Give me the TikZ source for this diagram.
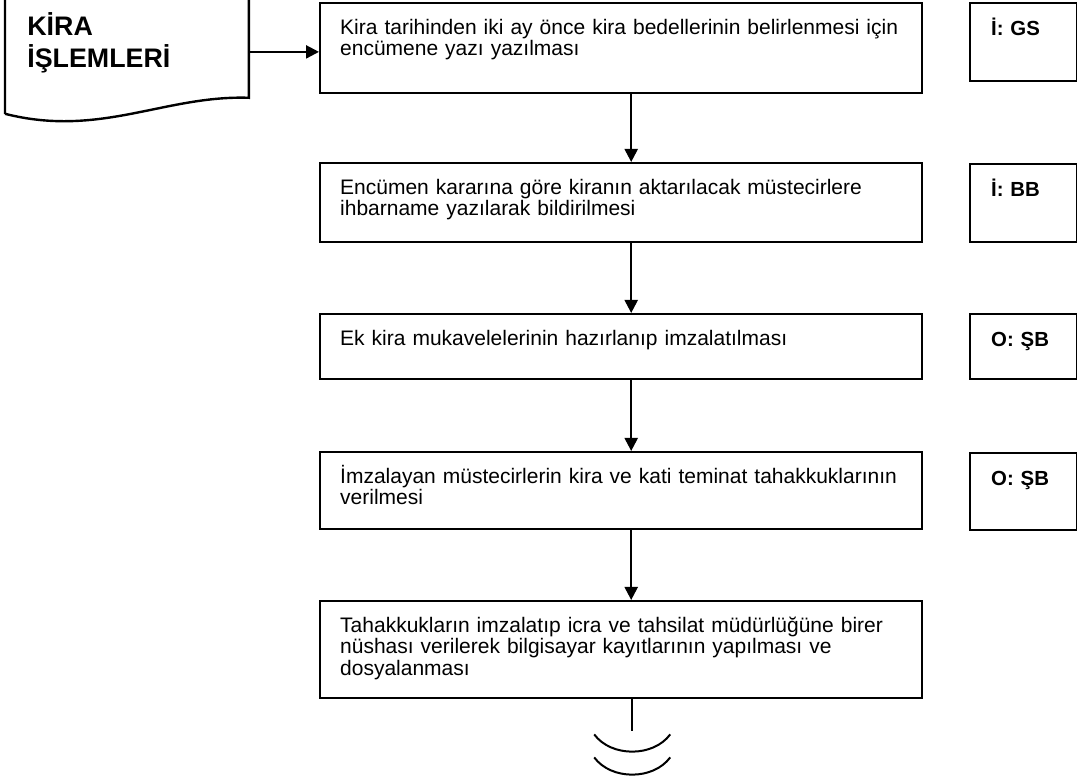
\documentclass[tikz,border=0pt]{standalone}
\usepackage{fontspec}
\setmainfont{Liberation Sans}
\usetikzlibrary{arrows.meta}

\begin{document}
\begin{tikzpicture}[x=0.5pt,y=-0.5pt,
  line/.style={line width=1.2pt},
  arrow/.style={line width=1.1pt,-{Triangle[length=6.5pt,width=6.5pt]}},
  curve/.style={line width=1pt},
  stepbox/.style={line,draw,anchor=north west,text width=281pt,align=left,
    inner xsep=10pt,inner ysep=7.5pt,text height=8pt,
    font=\fontsize{10.5}{10.8}\selectfont},
  rolebox/.style={line,draw,anchor=north west,text width=32.5pt,align=left,
    inner xsep=10.5pt,inner ysep=8pt,text height=8pt,
    font=\fontsize{10.2}{12}\selectfont\bfseries},
  titlebox/.style={anchor=north west,text width=99.5pt,align=left,
    inner xsep=11pt,inner ysep=8.5pt,text height=12pt,
    font=\fontsize{13.4}{16}\selectfont\bfseries}]
\useasboundingbox (0,0) rectangle (1077,779);

% document symbol
\node[titlebox,text depth=22.5pt] (doc) at (5,-6) {KİRA\\İŞLEMLERİ};
\draw[line] ([yshift=-8pt]doc.south west) -- (doc.north west) -- (doc.north east)
  -- (doc.south east) .. controls (165,95) and (100,138) .. ([yshift=-8pt]doc.south west);

% steps
\node[stepbox,text depth=22pt] (box1) at (319,2)
  {Kira tarihinden iki ay önce kira bedellerinin belirlenmesi için\\encümene yazı yazılması};
\node[stepbox,text depth=16.5pt] (box2) at (319,162)
  {Encümen kararına göre kiranın aktarılacak müstecirlere\\ihbarname yazılarak bildirilmesi};
\node[stepbox,text depth=9.5pt] (box3) at (319,313)
  {Ek kira mukavelelerinin hazırlanıp imzalatılması};
\node[stepbox,text depth=15.5pt] (box4) at (319,451)
  {İmzalayan müstecirlerin kira ve kati teminat tahakkuklarının\\verilmesi};
\node[stepbox,text depth=25.5pt] (box5) at (319,600)
  {Tahakkukların imzalatıp icra ve tahsilat müdürlüğüne birer\\nüshası verilerek bilgisayar kayıtlarının yapılması ve\\dosyalanması};

% responsible units
\node[rolebox,text depth=15pt] (role1) at (969,2) {İ: GS};
\node[rolebox,text depth=15pt] (role2) at (969,163) {İ: BB};
\node[rolebox,text depth=8.5pt] (role3) at (969,313) {O: ŞB};
\node[rolebox,text depth=14.5pt] (role4) at (969,452) {O: ŞB};

% connectors
\draw[arrow] ([yshift=-3pt]doc.east) -- ([yshift=-3pt]doc.east -| box1.west);
\foreach \a/\b in {box1/box2,box2/box3,box3/box4,box4/box5}
  \draw[arrow] ([xshift=5pt]\a.south) -- ([xshift=5pt]\b.north);

% continuation
\coordinate (cont) at ([xshift=5.5pt,yshift=-16pt]box5.south);
\draw[curve] ([xshift=5.5pt]box5.south) -- (cont);
\draw[curve] ([shift={(-38,3)}]cont) .. controls +(17,23) and +(-17,23) .. ([shift={(38,3)}]cont);
\draw[curve] ([shift={(-38,26)}]cont) .. controls +(17,23) and +(-17,23) .. ([shift={(38,26)}]cont);
\end{tikzpicture}
\end{document}
